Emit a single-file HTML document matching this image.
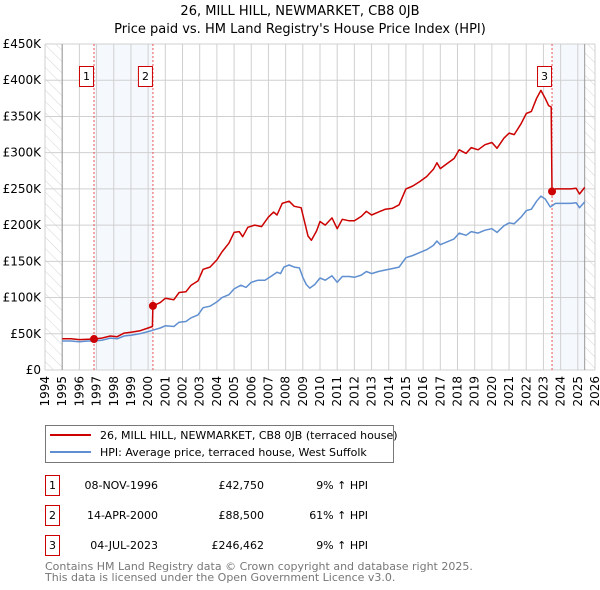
<!DOCTYPE html>
<html><head><meta charset="utf-8"><style>
body{margin:0;background:#fff;}
svg{display:block;font-family:"DejaVu Sans","Liberation Sans",sans-serif;}
</style></head><body>
<svg id="chart" width="600" height="590" viewBox="0 0 600 590">
<defs>
<pattern id="hatch" width="8" height="8" patternUnits="userSpaceOnUse" patternTransform="rotate(-45)">
<line x1="0" y1="0" x2="0" y2="8" stroke="#d4d4d4" stroke-width="1"/>
</pattern>
<clipPath id="plotclip"><rect x="45" y="44" width="550" height="326"/></clipPath>
</defs>
<text x="300" y="15" text-anchor="middle" font-size="13">26, MILL HILL, NEWMARKET, CB8 0JB</text>
<text x="300" y="33" text-anchor="middle" font-size="13">Price paid vs. HM Land Registry's House Price Index (HPI)</text>
<g id="grid"></g>
<g id="marks" clip-path="url(#plotclip)"></g>
<g id="axes"></g>

<g>
<rect x="45.5" y="425.5" width="348" height="37" fill="#fff" stroke="#777"/>
<line x1="50" y1="435" x2="91" y2="435" stroke="#cc0000" stroke-width="2"/>
<text x="100" y="439" font-size="11">26, MILL HILL, NEWMARKET, CB8 0JB (terraced house)</text>
<line x1="50" y1="452" x2="91" y2="452" stroke="#5f8fd0" stroke-width="2"/>
<text x="100" y="456" font-size="11">HPI: Average price, terraced house, West Suffolk</text>
</g>

<g font-size="11">
<g>
<rect x="45.5" y="475.5" width="14" height="20" fill="#fff" stroke="#cc0000"/>
<text x="52.5" y="489" text-anchor="middle">1</text>
<text x="158" y="489" text-anchor="end">08-NOV-1996</text>
<text x="264" y="489" text-anchor="end">£42,750</text>
<text x="368" y="489" text-anchor="end">9% ↑ HPI</text>
</g>
<g>
<rect x="45.5" y="505.5" width="14" height="20" fill="#fff" stroke="#cc0000"/>
<text x="52.5" y="519" text-anchor="middle">2</text>
<text x="158" y="519" text-anchor="end">14-APR-2000</text>
<text x="264" y="519" text-anchor="end">£88,500</text>
<text x="368" y="519" text-anchor="end">61% ↑ HPI</text>
</g>
<g>
<rect x="45.5" y="535.5" width="14" height="20" fill="#fff" stroke="#cc0000"/>
<text x="52.5" y="549" text-anchor="middle">3</text>
<text x="158" y="549" text-anchor="end">04-JUL-2023</text>
<text x="264" y="549" text-anchor="end">£246,462</text>
<text x="368" y="549" text-anchor="end">9% ↑ HPI</text>
</g>
</g>
<text x="45" y="570" font-size="11" fill="#777">Contains HM Land Registry data © Crown copyright and database right 2025.</text>
<text x="45" y="581" font-size="11" fill="#777">This data is licensed under the Open Government Licence v3.0.</text>
</svg>
<script>
const hpiYears=[1995.0,1995.5,1996.0,1996.5,1996.85,1997.3,1997.8,1998.2,1998.6,1999.0,1999.5,2000.0,2000.28,2000.7,2001.0,2001.5,2001.8,2002.2,2002.5,2002.9,2003.2,2003.6,2004.0,2004.3,2004.7,2005.0,2005.4,2005.7,2006.0,2006.4,2006.8,2007.2,2007.5,2007.7,2007.9,2008.2,2008.5,2008.8,2009.0,2009.2,2009.4,2009.7,2010.0,2010.3,2010.7,2011.0,2011.3,2011.7,2012.0,2012.4,2012.7,2013.0,2013.4,2013.8,2014.2,2014.6,2015.0,2015.4,2015.8,2016.2,2016.6,2016.8,2017.0,2017.4,2017.8,2018.1,2018.5,2018.8,2019.2,2019.6,2020.0,2020.3,2020.7,2021.0,2021.3,2021.7,2022.0,2022.3,2022.6,2022.85,2023.1,2023.4,2023.7,2024.2,2024.6,2024.9,2025.1,2025.4];
const hpiValues=[40,40,39,40,40,41,44,43,47,48,50,53,55,58,61,60,66,67,72,76,86,88,94,100,104,112,117,114,121,124,124,130,135,133,142,145,142,141,128,118,113,118,127,124,130,121,129,129,128,131,136,133,136,138,140,142,155,158,162,166,172,178,173,177,181,189,186,191,189,193,195,190,199,203,202,211,220,222,233,240,236,225,230,230,230,231,224,232];
const priceYears=[1995.0,1995.5,1996.0,1996.5,1996.85,1997.3,1997.8,1998.2,1998.6,1999.0,1999.5,2000.0,2000.25,2000.28,2000.7,2001.0,2001.5,2001.8,2002.2,2002.5,2002.9,2003.2,2003.6,2004.0,2004.3,2004.7,2005.0,2005.3,2005.5,2005.8,2006.2,2006.6,2007.0,2007.3,2007.5,2007.8,2008.2,2008.5,2008.9,2009.1,2009.3,2009.5,2009.8,2010.0,2010.3,2010.7,2011.0,2011.3,2011.7,2012.0,2012.4,2012.7,2013.0,2013.4,2013.8,2014.2,2014.6,2015.0,2015.4,2015.8,2016.2,2016.6,2016.8,2017.0,2017.4,2017.8,2018.1,2018.5,2018.8,2019.2,2019.6,2020.0,2020.3,2020.7,2021.0,2021.3,2021.7,2022.0,2022.3,2022.6,2022.85,2023.1,2023.3,2023.45,2023.5,2023.7,2024.2,2024.6,2024.9,2025.1,2025.4];
const priceValues=[43,43,42,42.5,42.75,44,47,46,51,52,54,58,60,88.5,93,99,97,107,108,117,123,139,142,152,163,175,190,191,184,197,200,198,211,218,214,230,233,226,224,205,185,179,192,205,200,210,195,208,206,206,212,219,214,218,222,223,228,250,254,260,267,277,286,278,285,292,304,299,307,304,311,314,306,320,327,325,340,354,357,375,386,375,365,363,246.5,250,250,250,251,243,252];
const saleYears=[1996.85,2000.28,2023.5];
const saleValues=[42.75,88.5,246.462];
const saleLabels=["1","2","3"];
const yTicks=[0,50,100,150,200,250,300,350,400,450];
const yTickLabels=["£0","£50K","£100K","£150K","£200K","£250K","£300K","£350K","£400K","£450K"];
const xTicks=[1994,1995,1996,1997,1998,1999,2000,2001,2002,2003,2004,2005,2006,2007,2008,2009,2010,2011,2012,2013,2014,2015,2016,2017,2018,2019,2020,2021,2022,2023,2024,2025,2026];

const X0=45,X1=595,Y0=370,Y1=44;
const xs=t=>X0+(t-1994)/(2026-1994)*(X1-X0);
const ys=v=>Y0-v/450*(Y0-Y1);
const NS="http://www.w3.org/2000/svg";
function mk(tag,attrs,parent,text){const e=document.createElementNS(NS,tag);for(const k in attrs)e.setAttribute(k,attrs[k]);if(text!==undefined)e.textContent=text;parent.appendChild(e);return e;}
const grid=document.getElementById('grid'),marks=document.getElementById('marks'),axes=document.getElementById('axes');

let r=mk('rect',{x:xs(saleYears[0]),y:Y1,width:xs(saleYears[1])-xs(saleYears[0]),height:Y0-Y1,fill:'#eef3fc',opacity:0.6},grid);


r=mk('rect',{x:xs(saleYears[2]),y:Y1,width:xs(2025.4)-xs(saleYears[2]),height:Y0-Y1,fill:'#eef3fc',opacity:0.6},grid);


r=mk('rect',{x:X0,y:Y1,width:xs(1995)-X0,height:Y0-Y1,fill:'url(#hatch)'},grid);


r=mk('rect',{x:xs(2025.4),y:Y1,width:X1-xs(2025.4),height:Y0-Y1,fill:'url(#hatch)'},grid);



yTicks.forEach((v,i)=>{
  const l=mk('line',{x1:X0,x2:X1,y1:ys(v),y2:ys(v),stroke:'#d0d0d0','stroke-width':1},grid);
  
  
  const t=mk('text',{x:X0-4,y:ys(v)+4,'text-anchor':'end','font-size':12},axes,yTickLabels[i]);
  
  
});
xTicks.forEach(y=>{
  const l=mk('line',{x1:xs(y),x2:xs(y),y1:Y1,y2:Y0,stroke:'#d0d0d0','stroke-width':1},grid);
  
  
  const t=mk('text',{x:0,y:0,'text-anchor':'end','font-size':12,transform:`translate(${xs(y)+4},${Y0+6}) rotate(-90)`},axes,String(y));
  
  
});
let bl=mk('line',{x1:xs(1995),x2:xs(1995),y1:Y1,y2:Y0,stroke:'#999','stroke-width':1},grid);


bl=mk('line',{x1:xs(2025.4),x2:xs(2025.4),y1:Y1,y2:Y0,stroke:'#999','stroke-width':1},grid);



saleYears.forEach((s,i)=>{
  const l=mk('line',{x1:xs(s),x2:xs(s),y1:Y1,y2:Y0,stroke:'#e55','stroke-width':1,'stroke-dasharray':'2,2'},marks);
  
  
});

const path=(xa,va)=>xa.map((t,i)=>(i?'L':'M')+xs(t).toFixed(1)+','+ys(va[i]).toFixed(1)).join('');
let p=mk('path',{d:path(hpiYears,hpiValues),fill:'none',stroke:'#5f8fd0','stroke-width':1.5,'stroke-linejoin':'round'},marks);


p=mk('path',{d:path(priceYears,priceValues),fill:'none',stroke:'#cc0000','stroke-width':1.5,'stroke-linejoin':'round'},marks);



saleYears.forEach((s,i)=>{
  const c=mk('circle',{cx:xs(s),cy:ys(saleValues[i]),r:4,fill:'#cc0000'},marks);
  
  
  const g=mk('g',{},axes);
  
  
  mk('rect',{x:xs(s)-14.5,y:66.5,width:14,height:20,fill:'#fff',stroke:'#cc0000'},g);
  mk('text',{x:xs(s)-7.5,y:80,'text-anchor':'middle','font-size':11},g,saleLabels[i]);
});
</script>
</body></html>
